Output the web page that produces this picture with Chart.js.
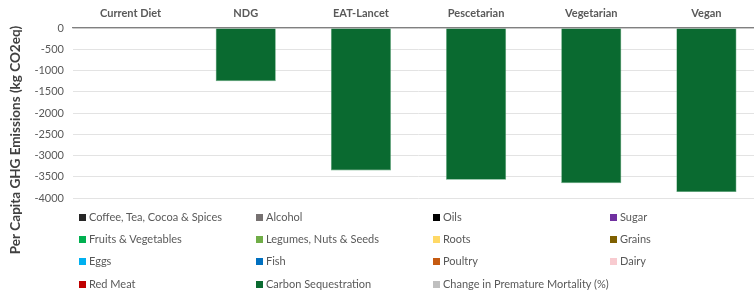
<!DOCTYPE html>
<html>
<head>
<meta charset="utf-8">
<script src="https://cdn.jsdelivr.net/npm/chart.js@4/dist/chart.umd.min.js"></script>
<style>
  html, body { margin: 0; padding: 0; background: #fff; overflow: hidden; }
  #wrap { position: relative; width: 764px; height: 292px; }
  #legend { position: absolute; left: 79px; top: 210px; font-family: Lato, sans-serif; font-size: 11px; color: #595959; }
  #legend .item { position: absolute; white-space: nowrap; line-height: 14px; }
  #legend .box { display: inline-block; width: 7px; height: 7px; margin-right: 3px; vertical-align: 0px; }
</style>
</head>
<body>
<div id="wrap">
  <canvas id="chart" width="764" height="292"></canvas>
  <div id="legend"></div>
</div>
<script>
var diets = ["Current Diet", "NDG", "EAT-Lancet", "Pescetarian", "Vegetarian", "Vegan"];
var carbonSequestration = [0, -1250, -3350, -3570, -3650, -3860];
var yTicks = [0, -500, -1000, -1500, -2000, -2500, -3000, -3500, -4000];

// legend order as in the picture, only carbon sequestration has values
var seriesNames = [
    "Coffee, Tea, Cocoa & Spices", "Alcohol", "Oils", "Sugar",
    "Fruits & Vegetables", "Legumes, Nuts & Seeds", "Roots", "Grains",
    "Eggs", "Fish", "Poultry", "Dairy",
    "Red Meat", "Carbon Sequestration", "Change in Premature Mortality (%)"
];
var seriesColors = [
    "#262626", "#767171", "#000000", "#7030a0",
    "#00b050", "#70ad47", "#ffd966", "#7f6000",
    "#00b0f0", "#0070c0", "#c55a11", "#f8cbd0",
    "#c00000", "#0a6a30", "#bfbfbf"
];

var datasets = seriesNames.map(function (name, i) {
    return {
        label: name,
        data: name === "Carbon Sequestration" ? carbonSequestration : diets.map(function () { return null; }),
        backgroundColor: seriesColors[i],
        borderColor: "#5fa77a",
        borderWidth: name === "Carbon Sequestration" ? 0.6 : 0,
        barPercentage: 0.522,
        categoryPercentage: 1
    };
});

var yTitle = {
    id: 'yTitle',
    afterDraw: function (chart) {
        var ctx = chart.ctx;
        ctx.save();
        ctx.translate(16, 140);
        ctx.rotate(-Math.PI / 2);
        ctx.font = "bold 13.5px Lato, sans-serif";
        ctx.fillStyle = "#404040";
        ctx.textAlign = "center";
        ctx.textBaseline = "middle";
        ctx.fillText("Per Capita GHG Emissions (kg CO2eq)", 0, 0);
        ctx.restore();
    }
};

var chart = new Chart(document.getElementById("chart"), {
    type: 'bar',
    data: { labels: diets, datasets: datasets },
    plugins: [yTitle],
    options: {
        responsive: false,
        animation: false,
        layout: { padding: { left: 0, right: 0, top: 0, bottom: 94 } },
        plugins: {
            legend: { display: false },
            tooltip: { enabled: false }
        },
        scales: {
            x: {
                position: 'top',
                stacked: true,
                grid: { display: false, drawTicks: false },
                border: { display: true, color: "#808080", width: 1.2 },
                ticks: {
                    color: "#595959",
                    font: { family: "Lato, sans-serif", size: 11, weight: 'bold' },
                    padding: 8
                },
                afterFit: function (scale) { scale.height = 28; }
            },
            y: {
                stacked: true,
                min: -4000,
                max: 0,
                afterBuildTicks: function (scale) {
                    scale.ticks = yTicks.map(function (v) { return { value: v }; });
                },
                grid: { color: "#e3e3e3", drawTicks: false },
                border: { display: false },
                ticks: {
                    color: "#595959",
                    font: { family: "Lato, sans-serif", size: 11 },
                    padding: 9,
                    callback: function (v) { return String(v); }
                },
                afterFit: function (scale) { scale.width = 73; }
            }
        }
    }
});

// html legend in four columns
var legendEl = document.getElementById("legend");
chart.data.datasets.forEach(function (ds, i) {
    var item = document.createElement("div");
    item.className = "item";
    item.style.left = (i % 4) * 177 + "px";
    item.style.top = Math.floor(i / 4) * 22.2 + "px";
    item.innerHTML = '<span class="box" style="background:' + ds.backgroundColor + '"></span>' + ds.label;
    legendEl.appendChild(item);
});
</script>
</body>
</html>
